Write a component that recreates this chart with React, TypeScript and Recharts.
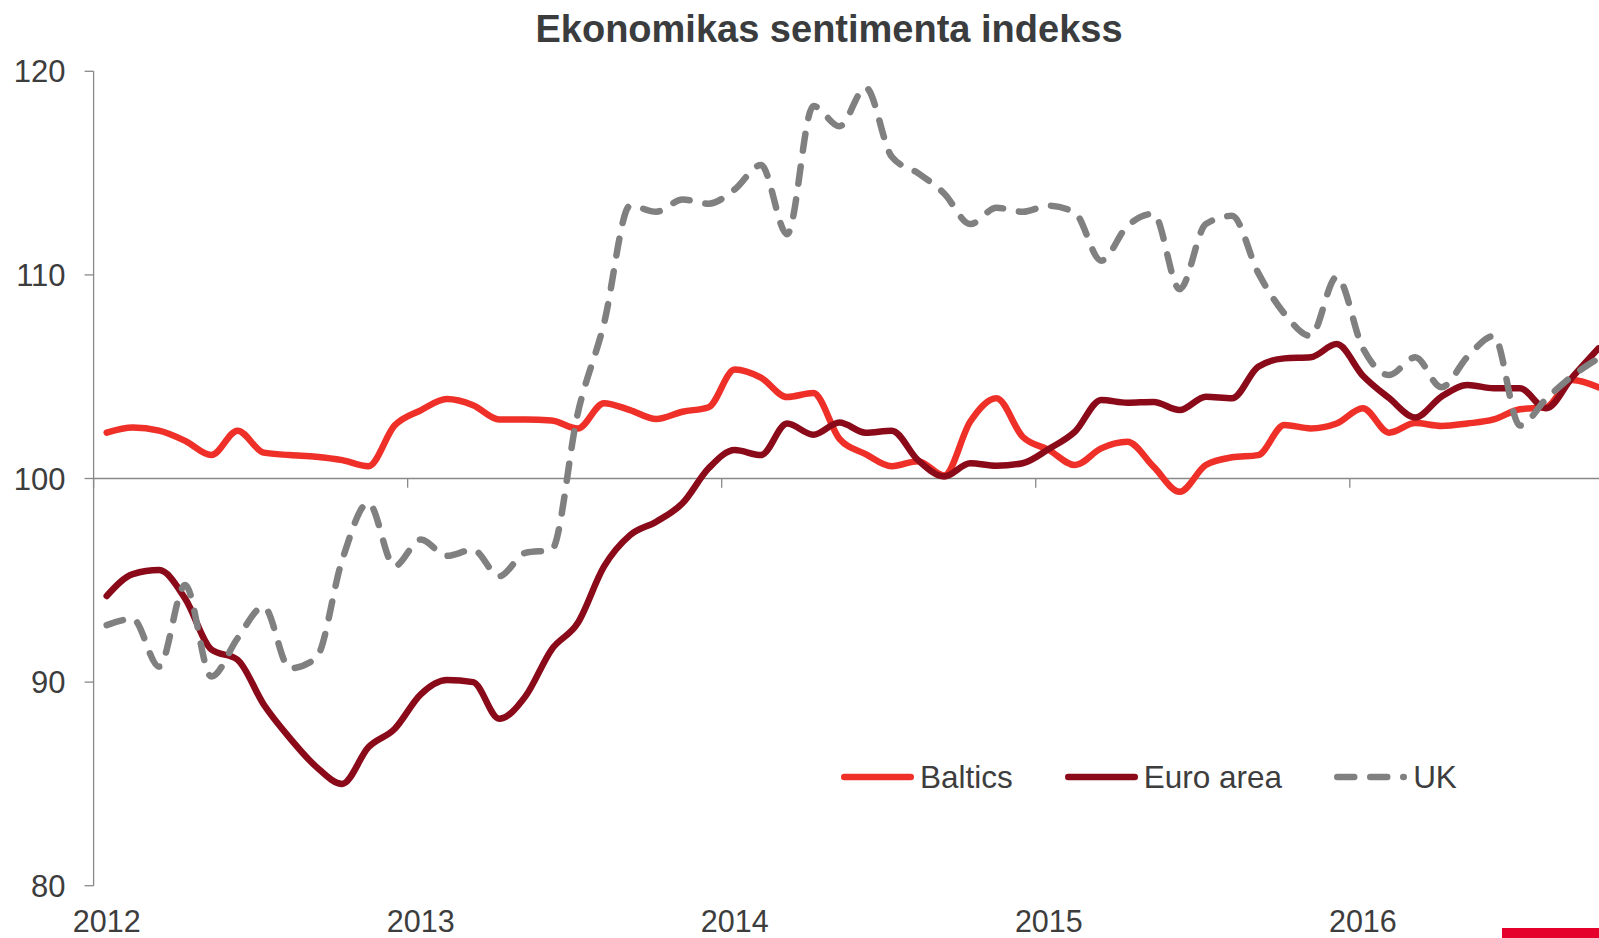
import React from "react";
import {
  LineChart,
  Line,
  XAxis,
  YAxis,
  ReferenceLine,
  Legend,
} from "recharts";

// monthly, Jan 2012 .. Oct 2016
const years = [2012, 2013, 2014, 2015, 2016];
const monthCount = 58;

const baltics = [
  102.25, 102.5, 102.35, 101.85, 101.15, 102.35, 101.27, 101.15, 101.07, 100.9, 100.6, 102.6,
  103.35, 103.9, 103.6, 102.9, 102.9, 102.85, 102.45, 103.7, 103.36, 102.92, 103.28, 103.5,
  105.35, 104.95, 104.0, 104.2, 101.95, 101.2, 100.6, 100.85, 100.15, 102.8, 103.94, 102.05,
  101.4, 100.66, 101.48, 101.8, 100.58, 99.35, 100.66, 101.04, 101.15, 102.63, 102.46, 102.7,
  103.45, 102.25, 102.72, 102.58, 102.7, 102.9, 103.4, 103.5, 104.84, 104.48,
];

const euroArea = [
  94.23, 95.3, 95.5, 94.1, 91.6, 91.1, 88.9, 87.25, 85.85, 85.0, 86.8, 87.7,
  89.4, 90.1, 90.0, 88.2, 89.3, 91.6, 92.9, 95.67, 97.22, 97.88, 98.78, 100.5,
  101.4, 101.15, 102.7, 102.15, 102.75, 102.25, 102.35, 100.9, 100.1, 100.75, 100.63, 100.75,
  101.45, 102.3, 103.86, 103.72, 103.76, 103.36, 104.02, 103.94, 105.49, 105.9, 105.95, 106.6,
  105.05, 103.95, 103.0, 104.02, 104.59, 104.43, 104.43, 103.45, 104.97, 106.39,
];

const uk = [
  92.8, 93.1, 90.76, 94.77, 90.27, 92.15, 93.7, 90.68, 91.17, 96.0, 98.8, 95.7,
  97.0, 96.2, 96.5, 95.2, 96.35, 96.5, 103.2, 107.6, 113.4, 113.1, 113.7, 113.5,
  114.2, 115.4, 112.0, 118.3, 117.3, 119.2, 115.8, 115.0, 114.0, 112.5, 113.3, 113.1,
  113.4, 113.05, 110.7, 112.4, 113.0, 109.3, 112.5, 112.9, 110.1, 108.1, 107.0, 109.9,
  106.4, 105.08, 105.95, 104.48, 105.98, 107.0, 102.6, 103.9, 105.03, 105.9,
];

const yTicks = [80, 90, 100, 110, 120];

const series = [
  { key: "baltics", name: "Baltics", color: "#ee3029", dash: undefined as string | undefined },
  { key: "euroArea", name: "Euro area", color: "#8a0a19", dash: undefined as string | undefined },
  { key: "uk", name: "UK", color: "#808080", dash: "17 16" },
];

const data = baltics.slice(0, monthCount).map((_, i) => ({
  t: i + 0.5,
  month: `${years[Math.floor(i / 12)]}-${String((i % 12) + 1).padStart(2, "0")}`,
  baltics: baltics[i],
  euroArea: euroArea[i],
  uk: uk[i],
}));

const yearTicks = years.map((_, k) => k * 12 + 0.5);
const yearBounds = years.map((_, k) => k * 12);

const textColor = "#3d3d3d";
const axisColor = "#898989";
const font = '"Liberation Sans", Arial, sans-serif';

function LegendContent() {
  return (
    <div
      style={{
        display: "flex",
        alignItems: "center",
        height: 40,
        fontSize: 31.5,
        fontFamily: font,
        color: textColor,
        whiteSpace: "nowrap",
      }}
    >
      {series.map((s) => (
        <div key={s.key} style={{ display: "flex", alignItems: "center", marginRight: 52 }}>
          <svg width={73} height={12} style={{ display: "block" }}>
            <line
              x1={3.25}
              x2={69.75}
              y1={6}
              y2={6}
              stroke={s.color}
              strokeWidth={6.5}
              strokeLinecap="round"
              strokeDasharray={s.dash}
            />
          </svg>
          <span style={{ marginLeft: 6, lineHeight: "40px" }}>{s.name}</span>
        </div>
      ))}
    </div>
  );
}

export default function App() {
  return (
    <div
      style={{
        position: "absolute",
        left: 0,
        top: 0,
        width: 1599,
        height: 938,
        overflow: "hidden",
        background: "#fff",
        fontFamily: font,
      }}
    >
      <div
        style={{
          position: "absolute",
          left: 829,
          top: 10,
          transform: "translateX(-50%)",
          fontSize: 38,
          lineHeight: "38px",
          fontWeight: "bold",
          color: "#3a3c3e",
          whiteSpace: "nowrap",
        }}
      >
        Ekonomikas sentimenta indekss
      </div>

      <LineChart
        width={1640}
        height={938}
        data={data}
        margin={{ top: 71.3, right: 28.5, bottom: 0, left: 0 }}
        style={{ position: "absolute", left: 0, top: 0 }}
      >
        <XAxis
          dataKey="t"
          type="number"
          domain={[0, monthCount]}
          ticks={yearTicks}
          interval={0}
          tickFormatter={(v: number) => String(years[Math.floor(v / 12)])}
          axisLine={false}
          tickLine={false}
          tickSize={0}
          tickMargin={24.5}
          height={52.3}
          tick={{ fontSize: 30.5, fill: textColor, fontFamily: font }}
        />
        <YAxis
          domain={[80, 120]}
          ticks={yTicks}
          interval={0}
          width={93.6}
          axisLine={{ stroke: axisColor, strokeWidth: 1.3 }}
          tickLine={{ stroke: axisColor, strokeWidth: 1.3 }}
          tickSize={9}
          tickMargin={19}
          tick={{ fontSize: 31, fill: textColor, fontFamily: font }}
        />
        <ReferenceLine y={100} stroke={axisColor} strokeWidth={1.3} />
        {yearBounds.map((b) => (
          <ReferenceLine
            key={b}
            segment={[
              { x: b, y: 100 },
              { x: b, y: 99.55 },
            ]}
            stroke={axisColor}
            strokeWidth={1.3}
          />
        ))}
        {series.map((s) => (
          <Line
            key={s.key}
            dataKey={s.key}
            name={s.name}
            type="monotone"
            stroke={s.color}
            strokeWidth={6.5}
            strokeDasharray={s.dash}
            strokeLinecap="round"
            strokeLinejoin="round"
            dot={false}
            activeDot={false}
            isAnimationActive={false}
          />
        ))}
        <Legend
          layout="horizontal"
          verticalAlign="middle"
          align="center"
          content={() => <LegendContent />}
          wrapperStyle={{ position: "absolute", left: 841, top: 757, width: "auto", height: "auto" }}
        />
      </LineChart>

      <div
        style={{
          position: "absolute",
          left: 1502,
          top: 928,
          width: 97,
          height: 10,
          background: "#e4002b",
        }}
      />
    </div>
  );
}
